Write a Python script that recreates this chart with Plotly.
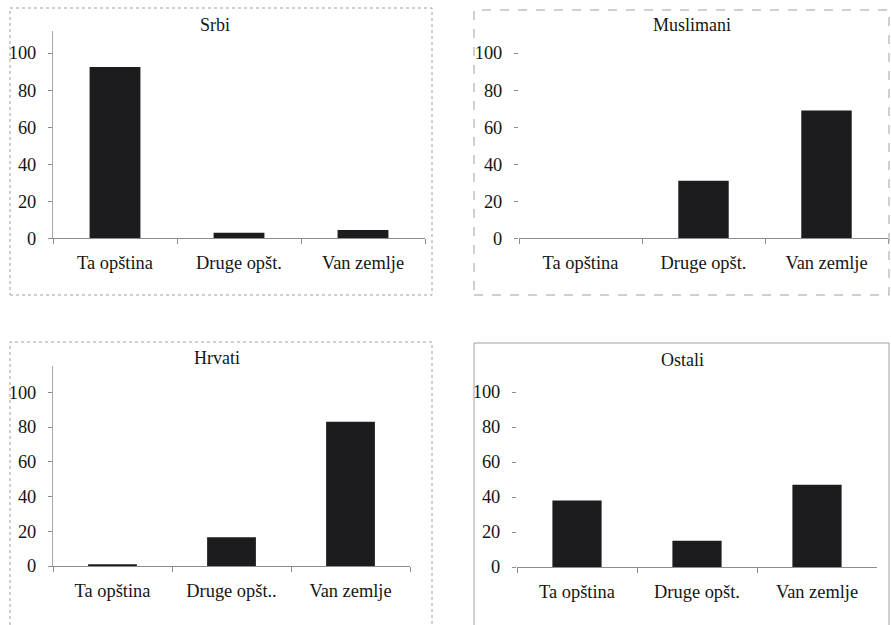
import plotly.graph_objects as go

# Origin of displaced persons, percent, by group
categories = ["Ta opština", "Druge opšt.", "Van zemlje"]
categories_hrvati = ["Ta opština", "Druge opšt..", "Van zemlje"]
srbi = [92.5, 3, 4.5]
muslimani = [0, 31, 69]
hrvati = [1, 16.5, 83]
ostali = [38, 15, 47]
y_ticks = [0, 20, 40, 60, 80, 100]

W, H = 891, 625
FONT = "Liberation Serif"
BAR = "#1c1c1f"
AXIS = "#8c8c8c"
TEXT = "#151515"


def px_x(v):
    return v / W


def px_y(v):
    return 1 - v / H


fig = go.Figure()

panels = [
    # name, labels, values, x-domain px, y-domain px (top, bottom), y max, show y line
    ("Srbi", categories, srbi, (53, 425), (30.8, 238.3), 112, True),
    ("Muslimani", categories, muslimani, (519, 888), (30.8, 238.3), 112, False),
    ("Hrvati", categories_hrvati, hrvati, (53, 410), (366.2, 566), 115, True),
    ("Ostali", categories, ostali, (517, 877), (365.8, 567), 115, False),
]

for i, (name, labels, vals, (x0, x1), (yt, yb), ymax, yline) in enumerate(panels, start=1):
    sfx = "" if i == 1 else str(i)
    fig.add_trace(go.Bar(
        x=labels, y=vals, width=0.41,
        marker=dict(color=BAR, line=dict(width=0)),
        xaxis="x" + sfx, yaxis="y" + sfx, showlegend=False,
    ))
    fig.update_layout(**{
        "xaxis" + sfx: dict(
            domain=[px_x(x0), px_x(x1)], anchor="y" + sfx, type="category",
            automargin=False,
            showline=True, linecolor=AXIS, linewidth=1,
            ticks="outside", tickson="boundaries", ticklen=5, tickcolor=AXIS,
            showgrid=False, zeroline=False, fixedrange=True,
            tickfont=dict(family=FONT, size=18.4, color=TEXT),
            ticklabelstandoff=8,
        ),
        "yaxis" + sfx: dict(
            domain=[px_y(yb), px_y(yt)], anchor="x" + sfx, range=[0, ymax],
            automargin=False,
            tickvals=y_ticks, showline=yline, linecolor="#a8a8a8", linewidth=1,
            ticks="outside", ticklen=4, tickcolor=AXIS,
            showgrid=False, zeroline=False, fixedrange=True,
            tickfont=dict(family=FONT, size=18.4, color=TEXT),
            ticklabelstandoff=8,
        ),
    })

# Panel titles
annotations = []
for text, cx, cy in [("Srbi", 215, 25), ("Muslimani", 692, 25),
                     ("Hrvati", 217, 358), ("Ostali", 682, 360)]:
    annotations.append(dict(
        text=text, x=px_x(cx), y=px_y(cy), xref="paper", yref="paper",
        showarrow=False, xanchor="center", yanchor="middle",
        font=dict(family=FONT, size=18, color=TEXT),
    ))

# Panel frames
shapes = []
frames = [
    (10, 8, 432, 295, "dot"),
    (474, 10, 889, 295, "dash"),
    (10, 342, 432, 640, "dot"),
    (474, 343, 889, 640, "solid"),
]
for fx0, fy0, fx1, fy1, dash in frames:
    shapes.append(dict(
        type="rect", xref="paper", yref="paper",
        x0=px_x(fx0), x1=px_x(fx1), y0=px_y(fy1), y1=px_y(fy0),
        line=dict(color="#a0a0a0", width=1, dash=dash),
    ))

fig.update_layout(
    width=W, height=H, margin=dict(l=0, r=0, t=0, b=0, autoexpand=False),
    paper_bgcolor="white", plot_bgcolor="white",
    annotations=annotations, shapes=shapes, bargap=0.59,
)

fig.write_html("out.html", config={"displayModeBar": False})
